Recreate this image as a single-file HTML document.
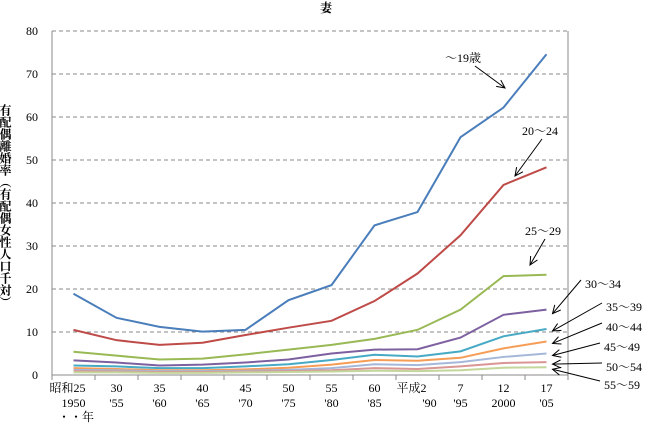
<!DOCTYPE html>
<html><head><meta charset="utf-8"><style>
body{margin:0;background:#fff;}
svg text{font-family:"Liberation Serif","Noto Serif CJK SC","Noto Sans CJK JP",serif;font-size:12px;fill:#000;}
</style></head><body>
<svg id="chart" width="647" height="424" xmlns="http://www.w3.org/2000/svg">
<text x="326" y="12" text-anchor="middle" font-weight="bold" font-size="13">妻</text>
<text x="0" y="0" font-size="11" font-weight="bold" style="writing-mode:tb" transform="translate(5,104)">有配偶離婚率（有配偶女性人口千対）</text>
<g id="grid"></g><g id="axes"></g><g id="lines"></g><g id="labels"></g>
</svg>
<script>
const row1=['昭和25','30','35','40','45','50','55','60','平成2','7','12','17'];
const row2=['1950',"'55","'60","'65","'70","'75","'80","'85","'90","'95",'2000',"'05"];
const yTicks=[0,10,20,30,40,50,60,70,80];
const seriesNames=['～19歳','20～24','25～29','30～34','35～39','40～44','45～49','50～54','55～59'];
const s19=[18.9,13.3,11.2,10.1,10.5,17.4,20.9,34.8,37.9,55.3,62.2,74.6];
const s20=[10.5,8.1,7.0,7.5,9.3,11.0,12.6,17.2,23.6,32.5,44.2,48.3];
const s25=[5.4,4.5,3.6,3.8,4.8,5.9,7.0,8.4,10.5,15.2,23.0,23.3];
const s30=[3.4,2.9,2.2,2.4,2.9,3.6,5.0,5.9,6.0,8.7,14.0,15.2];
const s35=[2.2,2.0,1.6,1.6,2.0,2.5,3.5,4.7,4.3,5.5,9.0,10.7];
const s40=[1.6,1.4,1.1,1.1,1.3,1.7,2.4,3.5,3.3,4.0,6.2,7.8];
const s45=[1.2,1.1,0.9,0.9,1.0,1.2,1.6,2.5,2.3,3.0,4.2,5.0];
const s50=[0.9,0.8,0.7,0.7,0.8,0.9,1.1,1.6,1.4,2.0,2.8,3.0];
const s55=[0.6,0.6,0.5,0.5,0.6,0.7,0.8,1.0,0.9,1.1,1.7,1.8];
const allSeries=[s19,s20,s25,s30,s35,s40,s45,s50,s55];
const colors=['#4a7ebb','#be4b48','#98b954','#7d60a0','#46aac5','#f59d56','#a5b8d9','#d99694','#c3d69b'];
const NS='http://www.w3.org/2000/svg';
const L=52,R=568,T=31,B=375,ymax=80;
const bw=(R-L)/row1.length;
const x=i=>L+bw*(i+0.5);
const y=v=>B-(B-T)*v/ymax;
function mk(tag,attrs,parent){const e=document.createElementNS(NS,tag);for(const k in attrs)e.setAttribute(k,attrs[k]);document.getElementById(parent).appendChild(e);return e;}
yTicks.forEach(t=>{
  if(t>0){const g=mk('line',{x1:L,x2:R,y1:y(t),y2:y(t),stroke:'#888','stroke-dasharray':'4,3'},'grid');
  
  }
  const tx=mk('text',{x:L-14,y:y(t)+4,'text-anchor':'end'},'axes');tx.textContent=t;
  
  
});
let ax=mk('path',{d:`M${L},${T} V${B} H${R} V${T}`,stroke:'#888',fill:'none'},'axes');


for(let i=0;i<=row1.length;i++){const tk=mk('line',{x1:L+bw*i,x2:L+bw*i,y1:B,y2:B+5,stroke:'#888'},'axes');
  
  }
row1.forEach((r,i)=>{
  const a=mk('text',{x:x(i)+(i==0||i==8?-6:0),y:392,'text-anchor':'middle'},'axes');a.textContent=r;
  
  
  const b=mk('text',{x:x(i)+(i==8?12:0),y:407,'text-anchor':'middle'},'axes');b.textContent=row2[i];
  
  
});
const nen=mk('text',{x:58,y:421,'text-anchor':'start'},'axes');nen.textContent='・・年';


allSeries.forEach((s,k)=>{
  const p=mk('polyline',{points:s.map((v,i)=>x(i)+','+y(v)).join(' '),fill:'none',stroke:colors[k],'stroke-width':2},'lines');
  
  
});
const lab=[[445,62,505,88],[522,135,515,176],[525,235,530,265],[585,288,553,308],[606,311,555,323],[606,331,555,340],[604,351,555,353],[606,371,555,362],[604,389,555,372]];
lab.forEach((d,k)=>{
  const n=allSeries[k].length-1;
  const t=mk('text',{x:d[0],y:d[1]},'labels');t.textContent=seriesNames[k];
  
  
  const sx=k<3?d[0]+(k==0?30:20):d[0]-4, sy=k<3?d[1]+4:d[1]-8;
  const ex=k<3?d[2]:x(n)+6, ey=k<3?d[3]:y(allSeries[k][n])+(k==3?4:2);
  const ln=mk('line',{x1:sx,y1:sy,x2:ex,y2:ey,stroke:'#000'},'labels');
  
  
  const ang=Math.atan2(ey-sy,ex-sx);
  const h=mk('path',{d:`M${ex-9*Math.cos(ang-0.45)},${ey-9*Math.sin(ang-0.45)} L${ex},${ey} L${ex-9*Math.cos(ang+0.45)},${ey-9*Math.sin(ang+0.45)}`,fill:'none',stroke:'#000'},'labels');
  
  
});
</script>
</body></html>
